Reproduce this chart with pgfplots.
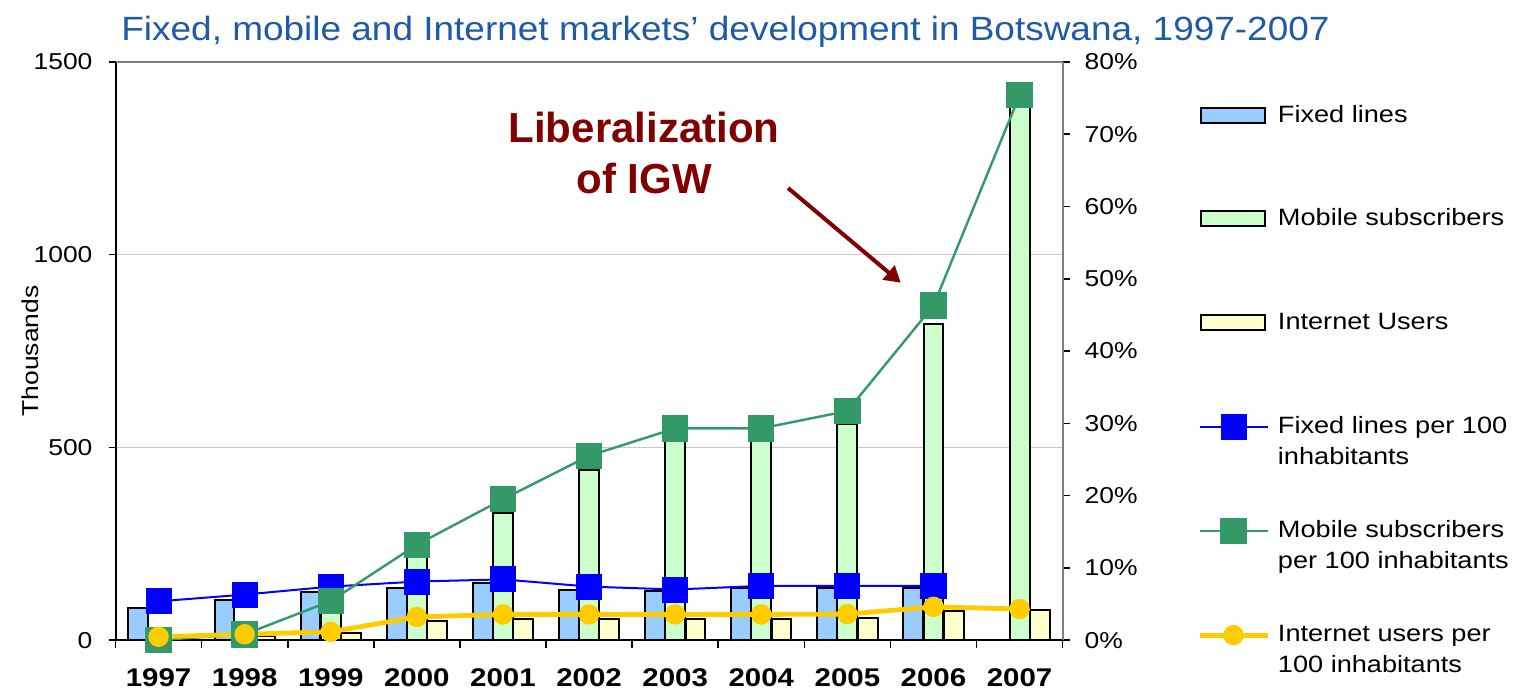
\documentclass[border=0pt]{standalone}
\usepackage{fontspec}
\setmainfont{Liberation Sans}[FakeStretch=1.15]
\newfontfamily\titlefont{Liberation Sans}[FakeStretch=1.1]
\newfontfamily\plainfont{Liberation Sans}
\usepackage{pgfplots}
\pgfplotsset{compat=1.18}
\usepackage{pgfplotstable}
\usetikzlibrary{arrows.meta}

\definecolor{fixedc}{HTML}{99CCFF}
\definecolor{mobilec}{HTML}{CCFFCC}
\definecolor{internetc}{HTML}{FFFFCC}
\definecolor{fixedl}{HTML}{0000FF}
\definecolor{mobilel}{HTML}{339966}
\definecolor{internetl}{HTML}{FFCC00}
\definecolor{titlec}{HTML}{1F5AA6}
\definecolor{annc}{HTML}{800000}
\definecolor{gridc}{HTML}{C8C8C8}
\definecolor{axgray}{HTML}{808080}

\pgfplotstableread{
x fixed mobile internet fixedp mobilep internetp
0 84 0 5 5.36 0 0.46
1 104 13 10 6.3 0.8 0.8
2 124 89 19 7.4 5.4 1.15
3 136 220 50 8.1 13.2 3.2
4 149 330 55 8.4 19.5 3.55
5 130 441 55 7.4 25.5 3.55
6 128 518 55 7.0 29.3 3.55
7 134 518 55 7.5 29.3 3.55
8 134 560 58 7.5 31.7 3.6
9 134 821 75 7.5 46.3 4.6
10 nan 1426 77 nan 75.4 4.3
}\data

\pgfplotsset{
  barlegend/.style={legend image code/.code={\draw[##1] (0.5pt,-0.25pt) rectangle (32.5pt,7.25pt);}},
  linelegend/.style={legend image code/.code={\draw[##1, mark repeat=2, mark phase=2] plot coordinates {(0pt,3pt) (17pt,3pt) (34pt,3pt)};}},
}
\newcommand{\lentry}[1]{\parbox[t]{130pt}{\strut #1}}

\begin{document}
\begin{tikzpicture}
\begin{axis}[
  name=main,
  scale only axis, width=473.5pt, height=289pt,
  xmin=-0.5, xmax=10.5, ymin=0, ymax=1500,
  axis x line*=bottom, axis y line*=left,
  axis line style={-, black, line width=1pt},
  xtick={0,1,2,3,4,5,6,7,8,9,10},
  xticklabels={1997,1998,1999,2000,2001,2002,2003,2004,2005,2006,2007},
  minor xtick={-0.5,0.5,1.5,2.5,3.5,4.5,5.5,6.5,7.5,8.5,9.5,10.5},
  major x tick style={draw=none},
  minor x tick style={black, line width=0.8pt},
  tick align=outside, major tick length=3.5pt, minor tick length=4pt,
  ytick={0,500,1000,1500},
  ytick style={black, line width=0.8pt},
  ymajorgrids, grid style={draw=gridc, line width=0.8pt},
  /pgf/number format/assume math mode=true,
  /pgf/number format/1000 sep={},
  xticklabel style={font=\fontsize{12.8}{15}\selectfont\bfseries, yshift=-7.3pt},
  yticklabel style={font=\fontsize{11.5}{14}\selectfont, xshift=-4.5pt},
  ylabel={Thousands},
  ylabel style={font=\fontsize{11.5}{14}\selectfont, at={(axis description cs:-0.0903,0.5)}, anchor=center},
]
\addplot[ybar, bar width=0.23, bar shift=-0.235, fill=fixedc, draw=black, line width=1pt] table[x=x,y=fixed] {\data};
\addplot[ybar, bar width=0.23, bar shift=0, fill=mobilec, draw=black, line width=1pt] table[x=x,y=mobile] {\data};
\addplot[ybar, bar width=0.23, bar shift=0.235, fill=internetc, draw=black, line width=1pt] table[x=x,y=internet] {\data};
\end{axis}

\begin{axis}[
  scale only axis, width=473.5pt, height=289pt,
  xmin=-0.5, xmax=10.5, ymin=0, ymax=80,
  axis y line*=right, axis x line=none,
  axis line style={-, draw=axgray, line width=1pt},
  ytick={0,10,20,30,40,50,60,70,80},
  ytick style={black, line width=0.8pt},
  tick align=outside, major tick length=3.5pt,
  /pgf/number format/assume math mode=true,
  yticklabel={\pgfmathprintnumber{\tick}\%},
  yticklabel style={font=\fontsize{11.5}{14}\selectfont, xshift=4pt},
  clip=false,
  legend style={at={(axis description cs:1.142,0.9308)}, anchor=north west,
    draw=none, fill=none, inner sep=0pt, outer sep=0pt,
    row sep=11.9pt, column sep=4pt,
    nodes={inner sep=0pt, anchor=base west, text height=10pt, text depth=30pt},
    font=\fontsize{11.8}{15.5}\selectfont},
]
\draw[axgray, line width=1pt] (rel axis cs:0,1) -- (rel axis cs:1,1);

\addlegendimage{barlegend, fill=fixedc, draw=black, line width=1pt}
\addlegendentry{\lentry{Fixed lines}}
\addlegendimage{barlegend, fill=mobilec, draw=black, line width=1pt}
\addlegendentry{\lentry{Mobile subscribers}}
\addlegendimage{barlegend, fill=internetc, draw=black, line width=1pt}
\addlegendentry{\lentry{Internet Users}}

\addplot[linelegend, fixedl, line width=1pt, mark=square*, mark size=6pt, mark options={fill=fixedl, draw=none}] table[x=x,y=fixedp] {\data};
\addlegendentry{\lentry{Fixed lines per 100\\inhabitants}}
\addplot[linelegend, mobilel, line width=1.2pt, mark=square*, mark size=6pt, mark options={fill=mobilel, draw=none}] table[x=x,y=mobilep] {\data};
\addlegendentry{\lentry{Mobile subscribers\\per 100 inhabitants}}
\addplot[linelegend, internetl, line width=2.4pt, mark=*, mark size=3.9pt, mark options={fill=internetl, draw=none}] table[x=x,y=internetp] {\data};
\addlegendentry{\lentry{Internet users per\\100 inhabitants}}

\node[anchor=base west, font=\titlefont\fontsize{16.8}{20}\selectfont, text=titlec, inner sep=0pt] at (rel axis cs:0.0058,1.038) {Fixed, mobile and Internet markets’ development in Botswana, 1997-2007};
\node[anchor=base, font=\plainfont\fontsize{21}{25}\selectfont\bfseries, text=annc, inner sep=0pt] at (rel axis cs:0.558,0.86) {Liberalization};
\node[anchor=base, font=\plainfont\fontsize{21}{25}\selectfont\bfseries, text=annc, inner sep=0pt] at (rel axis cs:0.558,0.7734) {of IGW};
\draw[annc, line width=2pt, -{Triangle[length=8pt,width=9pt]}] (rel axis cs:0.7101,0.782) -- (rel axis cs:0.8291,0.6182);
\end{axis}
\pgfresetboundingbox
\path[use as bounding box] ([xshift=-57.75pt,yshift=-25pt]main.south west) rectangle ([xshift=228.15pt,yshift=31pt]main.north east);
\end{tikzpicture}
\end{document}
